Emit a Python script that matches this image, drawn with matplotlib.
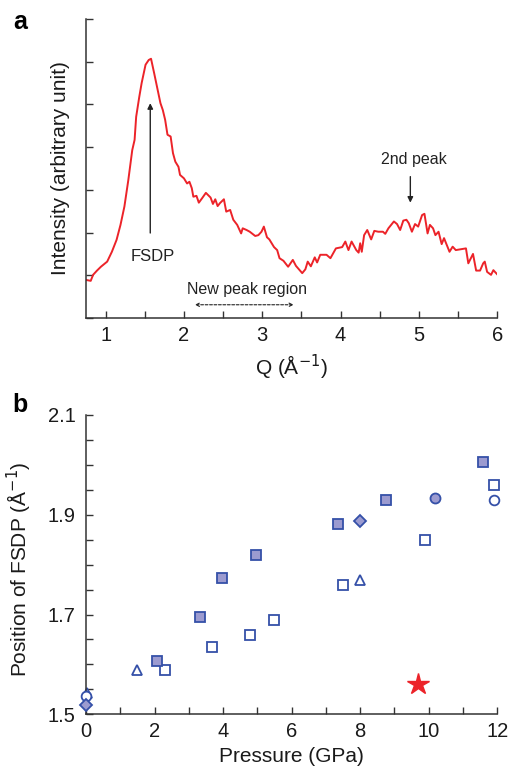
import matplotlib
matplotlib.use("Agg")
import matplotlib.pyplot as plt

plt.rcParams['font.family'] = ['Liberation Sans', 'DejaVu Sans']

# ---------------- Panel a data ----------------
q_vals = [0.753, 0.81, 0.84, 0.89, 0.94, 1.02, 1.08, 1.14, 1.19, 1.24, 1.29, 1.34, 1.37, 1.39,
          1.43, 1.46, 1.51, 1.55, 1.58, 1.62, 1.66, 1.70, 1.73, 1.76, 1.79, 1.83, 1.86, 1.89,
          1.93, 1.95, 2.00, 2.04, 2.07, 2.10, 2.12, 2.16, 2.19, 2.23, 2.28, 2.34, 2.37, 2.40,
          2.43, 2.46, 2.51, 2.54, 2.59, 2.63, 2.68, 2.73, 2.75, 2.80, 2.84, 2.91, 2.95, 2.99,
          3.02, 3.06, 3.09, 3.15, 3.19, 3.22, 3.27, 3.33, 3.39, 3.43, 3.51, 3.55, 3.58, 3.62,
          3.67, 3.70, 3.74, 3.82, 3.87, 3.94, 4.02, 4.06, 4.10, 4.14, 4.20, 4.23, 4.25, 4.27,
          4.30, 4.34, 4.39, 4.43, 4.48, 4.54, 4.57, 4.61, 4.68, 4.72, 4.76, 4.80, 4.84, 4.87,
          4.91, 4.95, 4.99, 5.04, 5.07, 5.11, 5.14, 5.18, 5.21, 5.25, 5.29, 5.32, 5.39, 5.43,
          5.47, 5.60, 5.63, 5.69, 5.73, 5.78, 5.82, 5.84, 5.87, 5.92, 5.95, 6.00]
intensity = [0.89, 0.87, 1.01, 1.11, 1.20, 1.32, 1.55, 1.83, 2.18, 2.61, 3.23, 3.93, 4.17, 4.71,
             5.18, 5.50, 5.93, 6.04, 6.07, 5.73, 5.38, 5.03, 4.87, 4.64, 4.29, 4.25, 3.86, 3.66,
             3.54, 3.35, 3.27, 3.15, 3.19, 3.04, 2.84, 2.86, 2.70, 2.80, 2.93, 2.82, 2.67, 2.78,
             2.62, 2.69, 2.78, 2.49, 2.53, 2.30, 2.18, 1.98, 2.10, 2.06, 2.02, 1.92, 1.94, 2.02,
             2.14, 1.89, 1.84, 1.66, 1.59, 1.40, 1.34, 1.20, 1.36, 1.22, 1.05, 1.14, 1.32, 1.21,
             1.42, 1.30, 1.48, 1.48, 1.40, 1.63, 1.66, 1.79, 1.59, 1.79, 1.59, 1.53, 1.75, 1.55,
             1.94, 2.06, 1.84, 2.04, 2.02, 2.02, 1.97, 2.10, 2.26, 2.20, 2.06, 2.28, 2.30, 2.22,
             2.02, 2.20, 2.14, 2.41, 2.44, 1.98, 2.18, 2.10, 1.94, 2.02, 1.73, 1.87, 1.55, 1.67,
             1.59, 1.63, 1.28, 1.50, 1.11, 1.11, 1.28, 1.32, 1.08, 1.01, 1.12, 1.02]

# ---------------- Panel b data ----------------
filled_sq_p = [2.06, 3.33, 3.97, 4.97, 7.36, 8.74, 11.59]
filled_sq_q = [1.606, 1.695, 1.773, 1.819, 1.881, 1.930, 2.006]
open_sq_p = [2.29, 3.69, 4.79, 5.49, 7.49, 9.89, 11.90]
open_sq_q = [1.589, 1.634, 1.658, 1.689, 1.759, 1.849, 1.959]
open_tri_p = [0.04, 1.49, 7.98]
open_tri_q = [1.542, 1.589, 1.769]
open_circ_p = [0.0, 11.90]
open_circ_q = [1.537, 1.930]
filled_circ_p = [10.19]
filled_circ_q = [1.934]
filled_dia_p = [0.0, 7.98]
filled_dia_q = [1.519, 1.888]
star_p = [9.68]
star_q = [1.561]

RED = '#ec2329'
BLUE = '#3550a8'
FILL = '#9c9bd0'
AX = '#333333'
TXT = '#1a1a1a'
FS_TICK = 14.5
FS_LAB = 15

fig = plt.figure(figsize=(5.09, 7.67), dpi=100)

def style(ax):
    for s in ['top', 'right']:
        ax.spines[s].set_visible(False)
    for s in ['left', 'bottom']:
        ax.spines[s].set_color(AX)
        ax.spines[s].set_linewidth(1.1)
    ax.tick_params(direction='in', length=5, width=1.0, color=AX, labelsize=FS_TICK,
                   labelcolor=TXT)
    ax.tick_params(which='minor', direction='in', length=5, width=1.0, color=AX)

# ---- Panel a ----
axa = fig.add_axes([0.169, 0.5854, 0.808, 0.3898])
style(axa)
axa.plot(q_vals, intensity, color=RED, lw=1.4)
axa.set_xlim(0.75, 6)
axa.set_ylim(0, 7)
axa.set_xticks([1, 2, 3, 4, 5, 6])
axa.set_xticks([1.5, 2.5, 3.5, 4.5, 5.5], minor=True)
axa.set_yticks(range(0, 8))
axa.set_yticklabels([])
axa.tick_params(axis='x', pad=6)
axa.set_xlabel('Q (Å$^{-1}$)', fontsize=FS_LAB, color=TXT)
axa.xaxis.set_label_coords(0.5, -0.115)
axa.set_ylabel('Intensity (arbitrary unit)', fontsize=FS_LAB, color=TXT)
axa.yaxis.set_label_coords(-0.039, 0.50)

axa.annotate('', xy=(1.57, 5.03), xytext=(1.57, 1.99),
             arrowprops=dict(arrowstyle='-|>', color='#222222', lw=1.0,
                             mutation_scale=8, shrinkA=0, shrinkB=0))
axa.text(1.6, 1.44, 'FSDP', ha='center', va='center', fontsize=12, color='#222222')
axa.annotate('', xy=(4.89, 2.70), xytext=(4.89, 3.31),
             arrowprops=dict(arrowstyle='-|>', color='#222222', lw=1.0,
                             mutation_scale=8, shrinkA=0, shrinkB=0))
axa.text(4.93, 3.70, '2nd peak', ha='center', va='center', fontsize=11.5, color='#222222')
axa.text(2.80, 0.66, 'New peak region', ha='center', va='center', fontsize=11.5, color='#222222')
axa.annotate('', xy=(2.14, 0.31), xytext=(3.40, 0.31),
             arrowprops=dict(arrowstyle='<->', color='#222222', lw=0.8,
                             linestyle=(0, (2.5, 1.5)), mutation_scale=6,
                             shrinkA=0, shrinkB=0))
fig.text(20 / 509, 1 - 22 / 767, 'a', fontsize=18, fontweight='bold', ha='center', va='center')

# ---- Panel b ----
axb = fig.add_axes([0.169, 0.0687, 0.808, 0.3903])
style(axb)
ms = 7
mew = 1.3
axb.plot(open_sq_p, open_sq_q, 's', ms=ms, mfc='white', mec=BLUE, mew=mew, clip_on=False)
axb.plot(filled_sq_p, filled_sq_q, 's', ms=ms, mfc=FILL, mec=BLUE, mew=mew, clip_on=False)
axb.plot(open_tri_p, open_tri_q, '^', ms=7.5, mfc='white', mec=BLUE, mew=mew, clip_on=False)
axb.plot(open_circ_p, open_circ_q, 'o', ms=7, mfc='white', mec=BLUE, mew=mew, clip_on=False, zorder=4)
axb.plot(filled_circ_p, filled_circ_q, 'o', ms=7.2, mfc=FILL, mec=BLUE, mew=mew, clip_on=False)
axb.plot(filled_dia_p, filled_dia_q, 'D', ms=6.3, mfc=FILL, mec=BLUE, mew=mew, clip_on=False, zorder=5)
axb.plot(star_p, star_q, '*', ms=16, color=RED, mec=RED, clip_on=False)
axb.set_xlim(0, 12)
axb.set_ylim(1.5, 2.1)
axb.set_xticks([0, 2, 4, 6, 8, 10, 12])
axb.set_xticks([1, 3, 5, 7, 9, 11], minor=True)
axb.set_yticks([1.5, 1.7, 1.9, 2.1])
axb.set_yticklabels(['1.5', '1.7', '1.9', '2.1'])
axb.set_yticks([1.55, 1.6, 1.65, 1.75, 1.8, 1.85, 1.95, 2.0, 2.05], minor=True)
axb.tick_params(axis='x', pad=5.5)
axb.tick_params(axis='y', pad=7.5)
axb.set_xlabel('Pressure (GPa)', fontsize=FS_LAB, color=TXT)
axb.xaxis.set_label_coords(0.5, -0.11)
axb.set_ylabel('Position of FSDP (Å$^{-1}$)', fontsize=FS_LAB, color=TXT)
axb.yaxis.set_label_coords(-0.127, 0.485)
fig.text(20 / 509, 1 - 405 / 767, 'b', fontsize=18, fontweight='bold', ha='center', va='center')

fig.savefig('out.png', dpi=100)
